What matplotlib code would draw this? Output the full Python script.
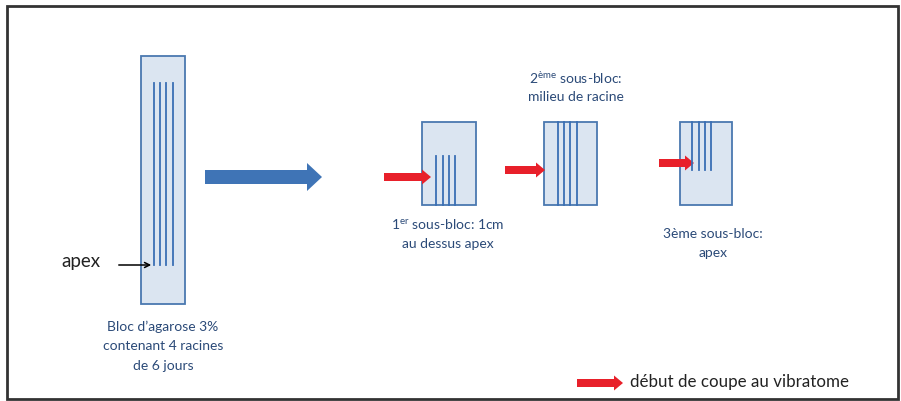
import matplotlib
matplotlib.use('Agg')
import matplotlib.pyplot as plt
from matplotlib.patches import Rectangle, FancyArrow

# Diagram laid out in pixel coordinates of the 901x401 reference.
W, H = 901, 401

BOX_FILL = '#dbe5f1'
BOX_EDGE = '#4a78b0'
ROOT_COLOR = '#3a6fb5'
RED = '#e8202a'
BLUE_ARROW = '#3f74b6'
CAPTION_COLOR = '#2b4a78'

# blocks: (x, y, width, height)
blocks = [
    (141, 56, 44, 248),   # main agarose block
    (422, 122, 54, 83),   # 1st sub-block
    (544, 122, 53, 83),   # 2nd sub-block
    (680, 122, 52, 83),   # 3rd sub-block
]
# roots per block: x positions and (y_top, y_bottom)
root_x = [
    [154, 160, 166, 173],
    [436, 443, 449, 455],
    [558, 564, 570, 577],
    [692, 699, 705, 711],
]
root_y = [
    (83, 265),
    (156, 205),
    (122, 205),
    (122, 170),
]
# red arrows: (x_start, x_tip, y)
red_arrows = [
    (384, 431, 177),
    (505, 545, 170),
    (659, 694, 163),
    (577, 623, 383),
]
captions = [
    (163, 327, 'Bloc d\u2019agarose 3%'),
    (163, 346, 'contenant 4 racines'),
    (163, 366, 'de 6 jours'),
    (448, 225, '1$^{\\mathrm{er}}$ sous-bloc: 1cm'),
    (448, 244, 'au dessus apex'),
    (576, 78, '2$^{\\mathrm{ème}}$ sous-bloc:'),
    (576, 97, 'milieu de racine'),
    (713, 234, '3ème sous-bloc:'),
    (713, 253, 'apex'),
]
legend_label = 'début de coupe au vibratome'

plt.rcParams['font.family'] = ['Lato', 'DejaVu Sans']
plt.rcParams['mathtext.fontset'] = 'custom'
plt.rcParams['mathtext.rm'] = 'Lato'

fig = plt.figure(figsize=(W / 100, H / 100), dpi=100)
ax = fig.add_axes([0, 0, 1, 1])
ax.set_xlim(0, W)
ax.set_ylim(H, 0)
ax.axis('off')

# outer frame
ax.add_patch(Rectangle((7, 6), 891, 393, fill=False, edgecolor='#333333', linewidth=2))

for (x, y, w, h), xs, (y0, y1) in zip(blocks, root_x, root_y):
    ax.add_patch(Rectangle((x, y), w, h, facecolor=BOX_FILL, edgecolor=BOX_EDGE, linewidth=1.3))
    for rx in xs:
        ax.plot([rx, rx], [y0, y1], color=ROOT_COLOR, linewidth=1.3)

# big blue arrow
ax.add_patch(FancyArrow(205, 177, 117, 0, width=14, head_width=28, head_length=15,
                        length_includes_head=True, facecolor=BLUE_ARROW, edgecolor='none'))

for x0, x1, y in red_arrows:
    ax.add_patch(FancyArrow(x0, y, x1 - x0, 0, width=8, head_width=15, head_length=9,
                            length_includes_head=True, facecolor=RED, edgecolor='none'))

# apex pointer
ax.annotate('', xy=(154, 265), xytext=(116, 265),
            arrowprops=dict(arrowstyle='->', color='black', lw=1.1, mutation_scale=9))
ax.text(61, 261, 'apex', fontsize=13.5, color='#222222', va='center', ha='left')

for x, y, s in captions:
    ax.text(x, y, s, fontsize=10, color=CAPTION_COLOR, ha='center', va='center')

ax.text(630, 382, legend_label, fontsize=12.2, color='#222222', ha='left', va='center')

fig.savefig('out.png', dpi=100)
